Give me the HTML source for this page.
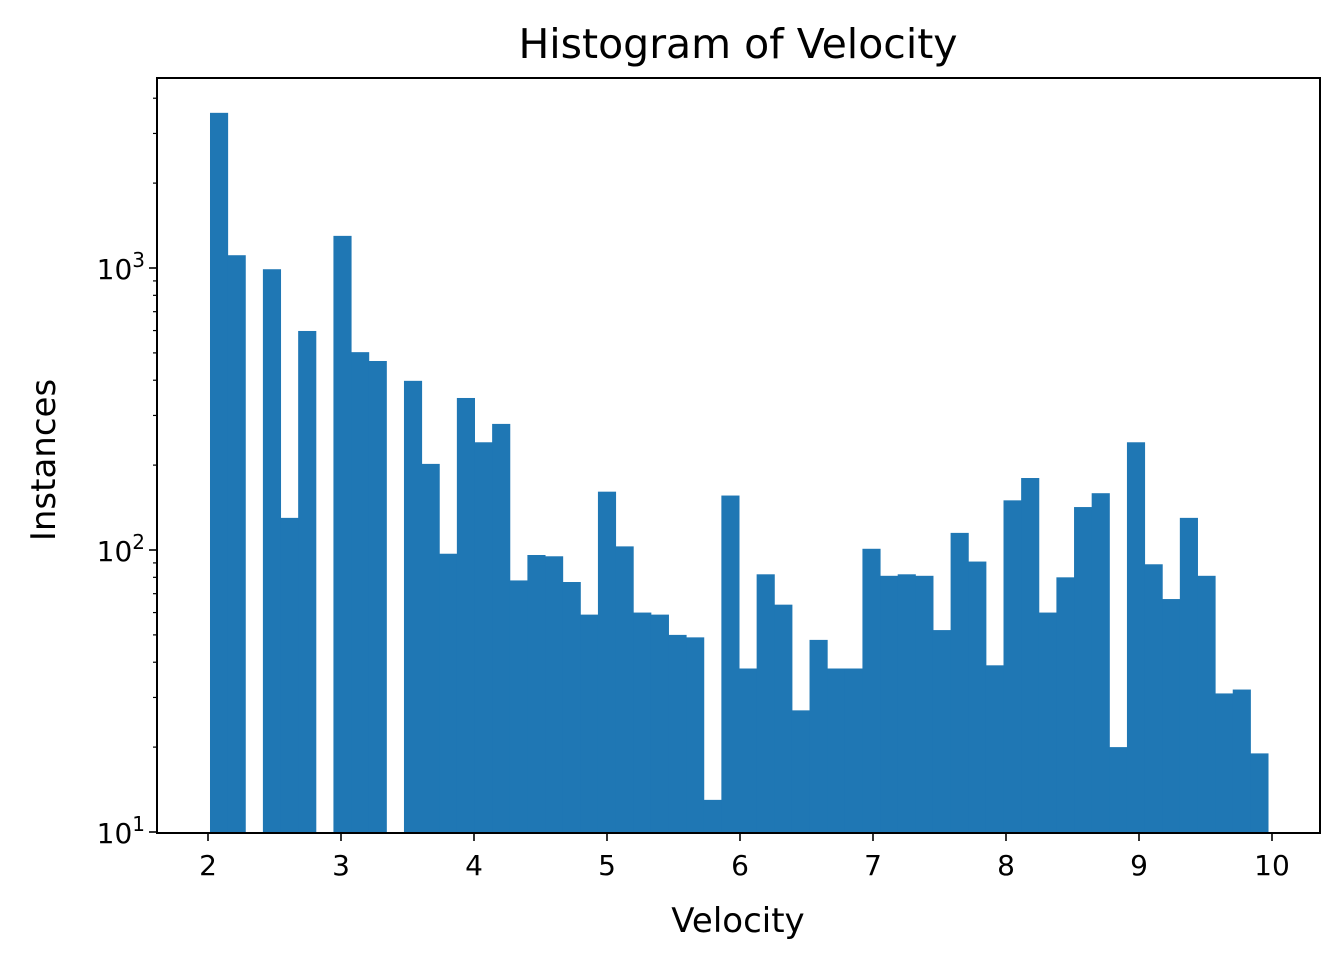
<!DOCTYPE html>
<html><head><meta charset="utf-8">
<style>
html,body{margin:0;padding:0;background:#fff;}
svg{display:block;font-family:"DejaVu Sans","Liberation Sans",sans-serif;}
</style></head>
<body>
<svg id="chart" width="1344" height="965" viewBox="0 0 1344 965">
<rect x="0" y="0" width="1344" height="965" fill="#fff"/>
<g id="bars"></g>
<g id="axes"></g>
<text x="738" y="58" style="font-size:41px" text-anchor="middle">Histogram of Velocity</text>
<text x="738" y="932" style="font-size:34px" text-anchor="middle">Velocity</text>
<text x="0" y="0" style="font-size:34px" text-anchor="middle" transform="translate(55,460) rotate(-90)">Instances</text>
</svg>
<script>
const binStart = 2.015;
const binEnd = 9.97;
const counts = [3550,1110,0,990,130,598,0,1300,503,468,0,398,202,97,346,241,280,78,96,95,77,59,161,103,60,59,50,49,13,156,38,82,64,27,48,38,38,101,81,82,81,52,115,91,39,150,180,60,80,142,159,20,241,89,67,130,81,31,32,19];
const xTicks = [2,3,4,5,6,7,8,9,10];
const yMajor = [1,2,3];
const yMinorMantissa = [2,3,4,5,6,7,8,9];

const L=157,R=1320,T=78,B=833;
const NS='http://www.w3.org/2000/svg';
function xs(v){return 208+(v-2)*133;}
function ys(v){return 832-(Math.log10(v)-1)*282;}
function mk(tag,attrs,parent){const e=document.createElementNS(NS,tag);for(const k in attrs)e.setAttribute(k,attrs[k]);parent.appendChild(e);return e;}

const bars=document.getElementById('bars');
const w=(binEnd-binStart)/counts.length;
counts.forEach((c,i)=>{
  if(c<=0)return;
  const x0=xs(binStart+i*w), x1=xs(binStart+(i+1)*w);
  const y=ys(c);
  const r=mk('rect',{x:x0,y:y,width:x1-x0+0.5,height:B-y,fill:'#1f77b4'},bars);
  
  
});

const ax=document.getElementById('axes');
const frame=mk('rect',{x:L,y:T,width:R-L,height:B-T,fill:'none',stroke:'#000','stroke-width':2},ax);



xTicks.forEach(t=>{
  const x=xs(t);
  mk('line',{x1:x,x2:x,y1:B,y2:B+8,stroke:'#000','stroke-width':1.6},ax);
  const tx=mk('text',{x:x,y:B+42,style:'font-size:28px','text-anchor':'middle'},ax);
  tx.textContent=t;
  
  
});

yMajor.forEach(p=>{
  const y=ys(Math.pow(10,p));
  mk('line',{x1:L-8,x2:L,y1:y,y2:y,stroke:'#000','stroke-width':1.6},ax);
  const tx=mk('text',{x:L-12,y:y+11,style:'font-size:28px','text-anchor':'end'},ax);
  tx.innerHTML='10<tspan dy="-12" style="font-size:20px">'+p+'</tspan>';
  
  
});
[1,2,3].forEach(p=>{
  yMinorMantissa.forEach(m=>{
    const v=m*Math.pow(10,p);
    const y=ys(v);
    if(y<T||y>B)return;
    mk('line',{x1:L-4,x2:L,y1:y,y2:y,stroke:'#000','stroke-width':1.2},ax);
  });
});
</script>
</body></html>
